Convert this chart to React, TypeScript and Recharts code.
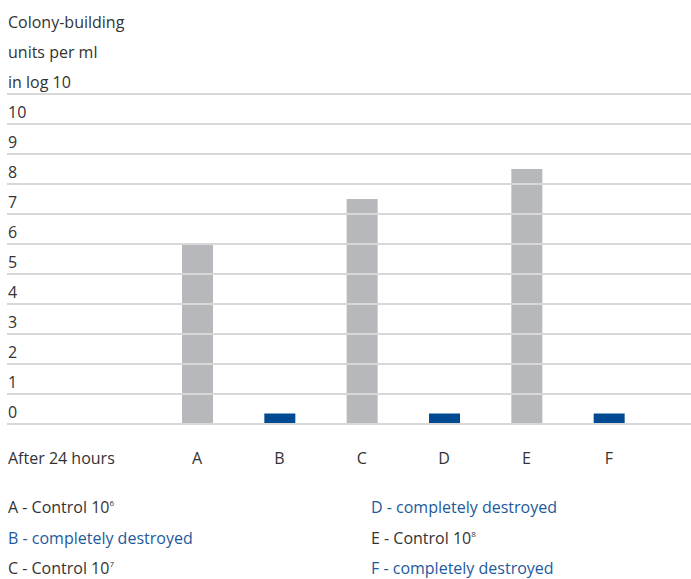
import React from 'react';
import { BarChart, Bar, XAxis, YAxis, ReferenceLine, Cell } from 'recharts';

const categories = ['A', 'B', 'C', 'D', 'E', 'F'];
const values = [6, 0.35, 7.5, 0.35, 8.5, 0.35];
const destroyed = [false, true, false, true, false, true];
const yTicks = [0, 1, 2, 3, 4, 5, 6, 7, 8, 9, 10, 11];
const yTitle = ['Colony-building', 'units per ml', 'in log 10'];
const xTitle = 'After 24 hours';
const legendLeft = [
  { text: 'A - Control 10', sup: '6', blue: false },
  { text: 'B - completely destroyed', sup: '', blue: true },
  { text: 'C - Control 10', sup: '7', blue: false },
];
const legendRight = [
  { text: 'D - completely destroyed', sup: '', blue: true },
  { text: 'E - Control 10', sup: '8', blue: false },
  { text: 'F - completely destroyed', sup: '', blue: true },
];

const FONT = '"Open Sans", sans-serif';
const DARK = '#333333';
const BLUE = '#1d5a9c';
const GREY_BAR = '#b7b8bb';
const BLUE_BAR = '#004a91';
const GRID = '#d8d8d8';

const data = categories.map((c, i) => ({ name: c, value: values[i], destroyed: destroyed[i] }));

// tick 11 carries the three-line axis title, the rest are plain numbers above their line
const YTick = (props: any) => {
  const { y, payload } = props;
  if (payload.value === 11) {
    return (
      <g>
        {yTitle.map((t, i) => (
          <text key={t} x={8} y={y - 6 - (yTitle.length - 1 - i) * 30} fill={DARK} fontSize={16} fontFamily={FONT}>
            {t}
          </text>
        ))}
      </g>
    );
  }
  return (
    <text x={8} y={y - 6} fill={DARK} fontSize={16} fontFamily={FONT}>
      {payload.value}
    </text>
  );
};

const XTick = (props: any) => {
  const { x, y, payload, index } = props;
  return (
    <g>
      {index === 0 && (
        <text x={8} y={y + 32} fill={DARK} fontSize={16} fontFamily={FONT}>
          {xTitle}
        </text>
      )}
      <text x={x} y={y + 32} fill={DARK} fontSize={16} fontFamily={FONT} textAnchor="middle">
        {payload.value}
      </text>
    </g>
  );
};

const LegendLine = ({ item }: { item: { text: string; sup: string; blue: boolean } }) => (
  <div style={{ height: 30.5, lineHeight: '30.5px', color: item.blue ? BLUE : DARK }}>
    {item.text}
    {item.sup && <sup style={{ fontSize: 8, verticalAlign: 'top', lineHeight: '22px' }}>{item.sup}</sup>}
  </div>
);

export default function App() {
  return (
    <div style={{ position: 'absolute', left: 0, top: 0, width: 691, height: 579, background: '#fff' }}>
      <BarChart width={691} height={579} data={data} margin={{ top: 94, right: 0, bottom: 125, left: 6 }} barSize={31}>
        <XAxis
          dataKey="name"
          axisLine={false}
          tickLine={false}
          height={30}
          tick={<XTick />}
          padding={{ left: 149, right: 41 }}
          interval={0}
        />
        <YAxis
          width={1}
          domain={[0, 11]}
          ticks={yTicks}
          axisLine={false}
          tickLine={false}
          tick={<YTick />}
          interval={0}
        />
        <Bar dataKey="value" isAnimationActive={false}>
          {data.map((d) => (
            <Cell key={d.name} fill={d.destroyed ? BLUE_BAR : GREY_BAR} />
          ))}
        </Bar>
        {yTicks.map((t) => (
          <ReferenceLine key={t} y={t} stroke={GRID} strokeWidth={2} />
        ))}
      </BarChart>
      <div style={{ position: 'absolute', left: 8, top: 492, fontFamily: FONT, fontSize: 16 }}>
        {legendLeft.map((it) => (
          <LegendLine key={it.text} item={it} />
        ))}
      </div>
      <div style={{ position: 'absolute', left: 371, top: 492, fontFamily: FONT, fontSize: 16 }}>
        {legendRight.map((it) => (
          <LegendLine key={it.text} item={it} />
        ))}
      </div>
    </div>
  );
}
